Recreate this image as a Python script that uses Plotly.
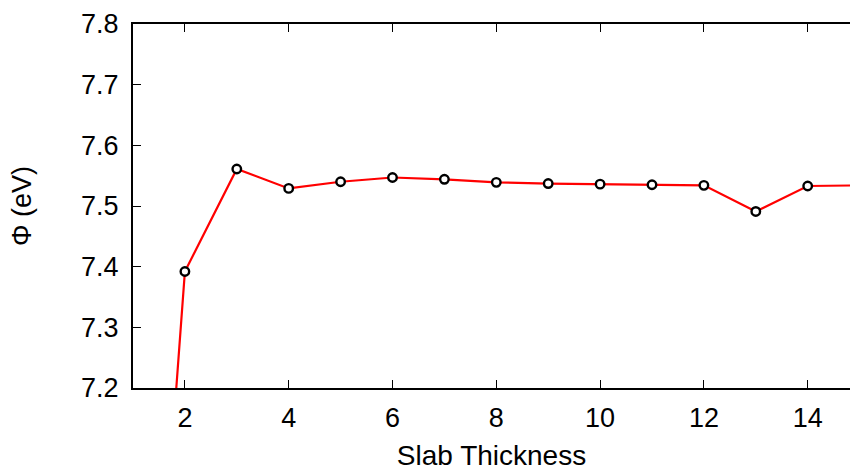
import plotly.graph_objects as go

# Work function versus slab thickness (number of layers)
thickness = [1, 2, 3, 4, 5, 6, 7, 8, 9, 10, 11, 12, 13, 14, 15]
phi_ev = [6.234, 7.392, 7.561, 7.529, 7.540, 7.547, 7.544, 7.539,
          7.537, 7.536, 7.535, 7.534, 7.491, 7.533, 7.534]

x_ticks = [2, 4, 6, 8, 10, 12, 14]
y_ticks = [7.2, 7.3, 7.4, 7.5, 7.6, 7.7, 7.8]

FONT = "Liberation Sans, Arial, Helvetica, sans-serif"

fig = go.Figure()
fig.add_trace(go.Scatter(
    x=thickness,
    y=phi_ev,
    mode="lines+markers",
    line=dict(color="#ff0000", width=2.2),
    marker=dict(symbol="circle", size=8.5, color="white",
                line=dict(color="black", width=2.4)),
    showlegend=False,
))

fig.update_layout(
    width=850,
    height=471,
    margin=dict(l=133, r=0, t=24, b=83),
    paper_bgcolor="white",
    plot_bgcolor="white",
    font=dict(family=FONT, size=27, color="black"),
    xaxis=dict(
        range=[1, 14.815],
        tickvals=x_ticks,
        ticktext=[str(v) for v in x_ticks],
        ticks="inside",
        ticklen=8,
        tickwidth=1,
        tickcolor="black",
        showline=True,
        linecolor="black",
        linewidth=2,
        mirror="ticks",
        showgrid=False,
        zeroline=False,
        automargin=False,
        ticklabelstandoff=5,
        tickfont=dict(size=27),
        title=dict(text="Slab Thickness", font=dict(size=28), standoff=22),
    ),
    yaxis=dict(
        range=[7.2, 7.8],
        tickvals=y_ticks,
        ticktext=[f"{v:.1f}" for v in y_ticks],
        ticks="inside",
        ticklen=8,
        tickwidth=1,
        tickcolor="black",
        showline=True,
        linecolor="black",
        linewidth=2,
        mirror=False,
        showgrid=False,
        zeroline=False,
        automargin=False,
        ticklabelstandoff=7,
        tickfont=dict(size=27),
        title=dict(text="Φ (eV)", font=dict(size=27), standoff=42),
    ),
)

fig.write_html("out.html")
